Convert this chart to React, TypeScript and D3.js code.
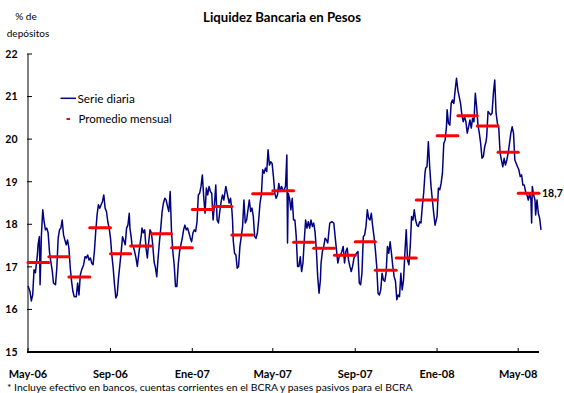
import React from "react";
import * as d3 from "d3";

// Daily series: [days since 2006-05-01, % of deposits]
const dailySeries: [number, number][] = [
  [0,16.55],[3,16.42],[5,16.20],[7,16.34],[9,16.93],[11,16.86],[14,17.28],[15,17.52],[17,17.71],[18,16.58],[19,17.12],[20,17.75],[22,18.34],[24,18.06],[26,17.87],[28,17.91],[30,17.80],[32,17.36],[34,17.12],[36,16.93],[38,16.62],[41,16.58],[43,16.98],[45,17.68],[47,17.87],[49,17.91],[51,18.10],[53,17.75],[55,17.63],[57,17.52],[59,17.63],[61,17.44],[63,16.98],[65,16.66],[67,16.42],[69,16.30],[72,16.30],[74,16.62],[76,16.34],[78,16.81],[80,16.93],[82,17.01],[83,17.05],[85,17.24],[87,17.21],[89,17.28],[91,17.16],[93,17.21],[95,17.09],[97,17.05],[99,17.36],[101,17.83],[103,18.22],[105,18.46],[107,18.38],[109,18.46],[111,18.53],[113,18.69],[115,18.38],[117,18.30],[119,18.06],[121,17.91],[123,17.68],[125,17.28],[127,16.98],[129,16.58],[131,16.27],[133,16.34],[135,16.74],[137,17.05],[139,17.36],[141,17.71],
  [145,17.52],[147,17.91],[149,17.98],[151,18.26],[152,17.91],[154,17.68],[155,17.52],[157,17.48],[159,17.36],[161,17.21],[163,17.01],[165,17.28],[167,17.52],[169,17.75],[170,17.91],[172,17.80],[174,17.87],[176,17.44],[178,17.21],[180,17.59],[182,17.87],[184,17.80],[186,17.52],[188,17.12],[190,16.98],[192,16.77],[194,17.21],[196,17.59],[198,17.91],[200,18.30],[202,18.50],[204,18.61],[206,18.57],[208,18.42],[210,18.30],[212,18.77],[214,17.83],[216,17.36],[218,17.05],[220,16.54],[222,16.54],[224,17.05],[226,17.36],[228,17.52],[230,17.67],[232,17.87],[234,17.98],[236,17.87],[238,17.91],[240,17.80],[242,17.68],[244,17.59],[246,17.80],[248,17.87],[250,17.83],[252,18.06],[254,18.69],[256,18.73],[258,18.89],[260,19.16],[262,18.65],[264,18.26],[266,18.85],[268,18.69],[270,18.89],[272,18.77],[274,18.73],[276,18.10],[278,18.46],[280,18.92],[282,18.10],[284,18.03],[286,18.30],[288,18.53],[290,18.69],[292,18.57],
  [295,18.89],[298,18.65],[300,18.50],[302,18.61],[304,18.34],[305,18.10],[306,17.63],[308,17.32],[310,17.28],[312,16.97],[314,17.01],[316,17.48],[318,17.71],[320,17.95],[322,18.57],[324,18.03],[326,18.10],[328,18.34],[330,18.57],[332,18.30],[334,18.38],[336,18.18],[338,17.71],[340,17.67],[342,17.79],[344,18.10],[346,18.50],[348,18.69],[350,19.28],[352,19.20],[354,19.32],[356,19.24],[358,19.75],[360,19.39],[362,19.47],[364,19.43],[366,19.12],[368,18.73],[370,18.61],[372,18.69],[374,18.96],[376,18.77],[378,18.89],[380,18.81],[382,18.81],[384,18.89],[386,19.63],[387,17.56],[388,18.73],[390,18.61],[392,18.34],[394,18.61],[396,18.10],[398,18.10],[400,17.71],[402,17.01],[404,17.01],[406,17.24],[408,16.89],[410,17.09],[412,17.63],[414,18.10],[416,17.91],[418,18.06],[420,17.91],[422,18.10],[424,17.95],[426,18.03],[428,17.83],[430,17.40],[432,16.77],[434,16.38],[436,16.69],[437,17.09],[439,17.36],[441,17.48],[443,17.67],[445,17.63],[447,17.56],
  [450,18.03],[453,18.06],[456,18.03],[458,17.71],[460,17.40],[462,17.09],[464,17.24],[466,17.28],[468,17.36],[470,17.48],[472,17.09],[474,17.36],[476,17.44],[478,17.16],[480,17.01],[482,16.89],[484,17.01],[486,17.20],[488,17.28],[490,17.32],[492,17.36],[494,16.62],[496,16.58],[498,16.85],[500,17.71],[502,17.75],[504,17.95],[506,18.34],[508,18.14],[510,18.10],[512,18.26],[514,17.95],[516,17.71],[518,17.40],[520,17.01],[522,16.38],[524,16.34],[526,16.46],[528,16.85],[530,16.69],[532,16.66],[534,16.85],[536,17.48],[538,17.32],[540,17.59],[542,17.32],[544,17.01],[546,16.77],[548,16.66],[550,16.23],[552,16.34],[554,16.30],[556,16.85],[558,16.46],[560,16.69],[562,17.32],[564,17.87],[566,17.16],[568,17.05],[570,17.48],[572,18.18],[574,18.10],[576,18.34],[578,18.10],[580,17.98],[582,17.95],[584,18.06],[586,18.03],[588,18.42],[590,18.73],[592,19.20],[593,19.32],[595,19.35],[597,19.94],[599,19.35],[601,18.89],[603,18.57],[605,18.26],
  [607,17.98],[610,18.18],[612,18.85],[614,18.81],[616,18.96],[618,19.20],[620,19.90],[622,19.98],[624,20.29],[625,20.69],[627,20.37],[629,20.33],[631,20.84],[633,20.92],[635,20.84],[637,21.15],[639,21.43],[641,21.15],[643,21.00],[645,20.84],[647,20.57],[649,20.41],[651,20.53],[653,20.41],[655,20.14],[657,20.29],[659,20.45],[661,20.26],[663,20.49],[665,20.41],[667,21.08],[669,20.76],[671,20.33],[673,20.14],[675,19.90],[677,19.55],[679,19.59],[681,19.82],[683,19.94],[684,20.06],[686,20.65],[688,20.61],[690,20.57],[692,20.61],[694,21.08],[696,21.39],[698,20.61],[700,20.37],[702,20.26],[704,19.67],[706,19.51],[708,19.35],[710,19.55],[712,19.39],[714,19.51],[716,19.67],[718,19.90],[720,20.14],[722,20.29],[724,20.14],[726,19.51],[728,19.43],[730,19.35],[732,19.28],[734,19.12],[736,19.16],[738,18.92],[740,18.92],[742,18.77],[744,18.69],[746,18.57],[748,18.73],[750,18.57],[751,18.03],[752,18.89],[754,18.69],[756,18.57],[757,18.22],[759,18.57],[761,18.26],[763,18.14],[765,17.87],
];

// Monthly averages, May-06 .. May-08
const monthlyAverages: number[] = [
  17.10, 17.24, 16.76, 17.92, 17.31, 17.49, 17.78, 17.45,
  18.35, 18.42, 17.75, 18.72, 18.79, 17.58, 17.44, 17.27,
  17.59, 16.92, 17.21, 18.57, 20.08, 20.55, 20.31, 19.69, 18.73,
];

const yTicks: number[] = [15, 16, 17, 18, 19, 20, 21, 22];
const xTickLabels: string[] = ["May-06", "Sep-06", "Ene-07", "May-07", "Sep-07", "Ene-08", "May-08"];
const xTickMonthOffsets: number[] = [0, 4, 8, 12, 16, 20, 24];
const lastLabel = "18,7";

const START = new Date(Date.UTC(2006, 4, 1));
const END = new Date(Date.UTC(2008, 5, 1));

const W = 564;
const H = 393;
const FONT = "Lato, 'Open Sans', sans-serif";

export default function App() {
  const x = d3.scaleUtc().domain([START, END]).range([28, 539]);
  const y = d3.scaleLinear().domain([15, 22]).range([352, 54]);

  const line = d3
    .line<[number, number]>()
    .x((d) => x(d3.utcDay.offset(START, d[0])))
    .y((d) => y(d[1]));

  const months = monthlyAverages.map((v, i) => ({
    start: d3.utcMonth.offset(START, i),
    end: d3.utcMonth.offset(START, i + 1),
    v,
  }));
  const last = months[months.length - 1];

  return (
    <svg
      width={W}
      height={H}
      style={{ position: "absolute", left: 0, top: 0, background: "#fff" }}
      fontFamily={FONT}
    >
      <text x={282} y={21.5} textAnchor="middle" fontWeight="bold" fontSize={13.2}>
        Liquidez Bancaria en Pesos
      </text>
      <text x={26} y={20} textAnchor="middle" fontSize={10}>% de</text>
      <text x={28} y={37} textAnchor="middle" fontSize={10}>depósitos</text>

      {/* y axis */}
      <line x1={28} x2={28} y1={y(22)} y2={y(15)} stroke="#808080" strokeWidth={2} />
      {yTicks.map((t) => (
        <g key={t}>
          <line x1={27} x2={32} y1={y(t)} y2={y(t)} stroke="#000" strokeWidth={1} />
          <text x={17.5} y={y(t) + 3.8} textAnchor="end" fontWeight="bold" fontSize={10.5}>
            {t}
          </text>
        </g>
      ))}

      {/* x axis */}
      <line x1={27} x2={x(END)} y1={y(15)} y2={y(15)} stroke="#000" strokeWidth={2} />
      {xTickMonthOffsets.map((m, i) => {
        const xx = x(d3.utcMonth.offset(START, m));
        return (
          <g key={m}>
            <line x1={xx} x2={xx} y1={y(15)} y2={y(15) - 4} stroke="#000" strokeWidth={1} />
            <text x={xx} y={377.5} textAnchor="middle" fontWeight="bold" fontSize={11}>
              {xTickLabels[i]}
            </text>
          </g>
        );
      })}

      {/* daily series */}
      <path d={line(dailySeries) || ""} fill="none" stroke="#000080" strokeWidth={1.5} strokeLinejoin="round" />

      {/* monthly averages */}
      {months.map((m, i) => (
        <line
          key={i}
          x1={x(m.start)}
          x2={x(m.end)}
          y1={y(m.v)}
          y2={y(m.v)}
          stroke="#ff0000"
          strokeWidth={3}
          strokeLinecap="round"
        />
      ))}
      <text x={x(last.end) + 3} y={y(last.v) + 4} fontWeight="bold" fontSize={10.5}>
        {lastLabel}
      </text>

      {/* legend */}
      <line x1={60.5} x2={76} y1={98.3} y2={98.3} stroke="#000080" strokeWidth={1.5} />
      <text x={77.5} y={102.5} fontSize={11.8}>Serie diaria</text>
      <line x1={66.5} x2={70} y1={119} y2={119} stroke="#ff0000" strokeWidth={2} />
      <text x={78.5} y={123} fontSize={11.5}>Promedio mensual</text>

      <text x={7} y={391} fontSize={10.4}>
        * Incluye efectivo en bancos, cuentas corrientes en el BCRA y pases pasivos para el BCRA
      </text>
    </svg>
  );
}
